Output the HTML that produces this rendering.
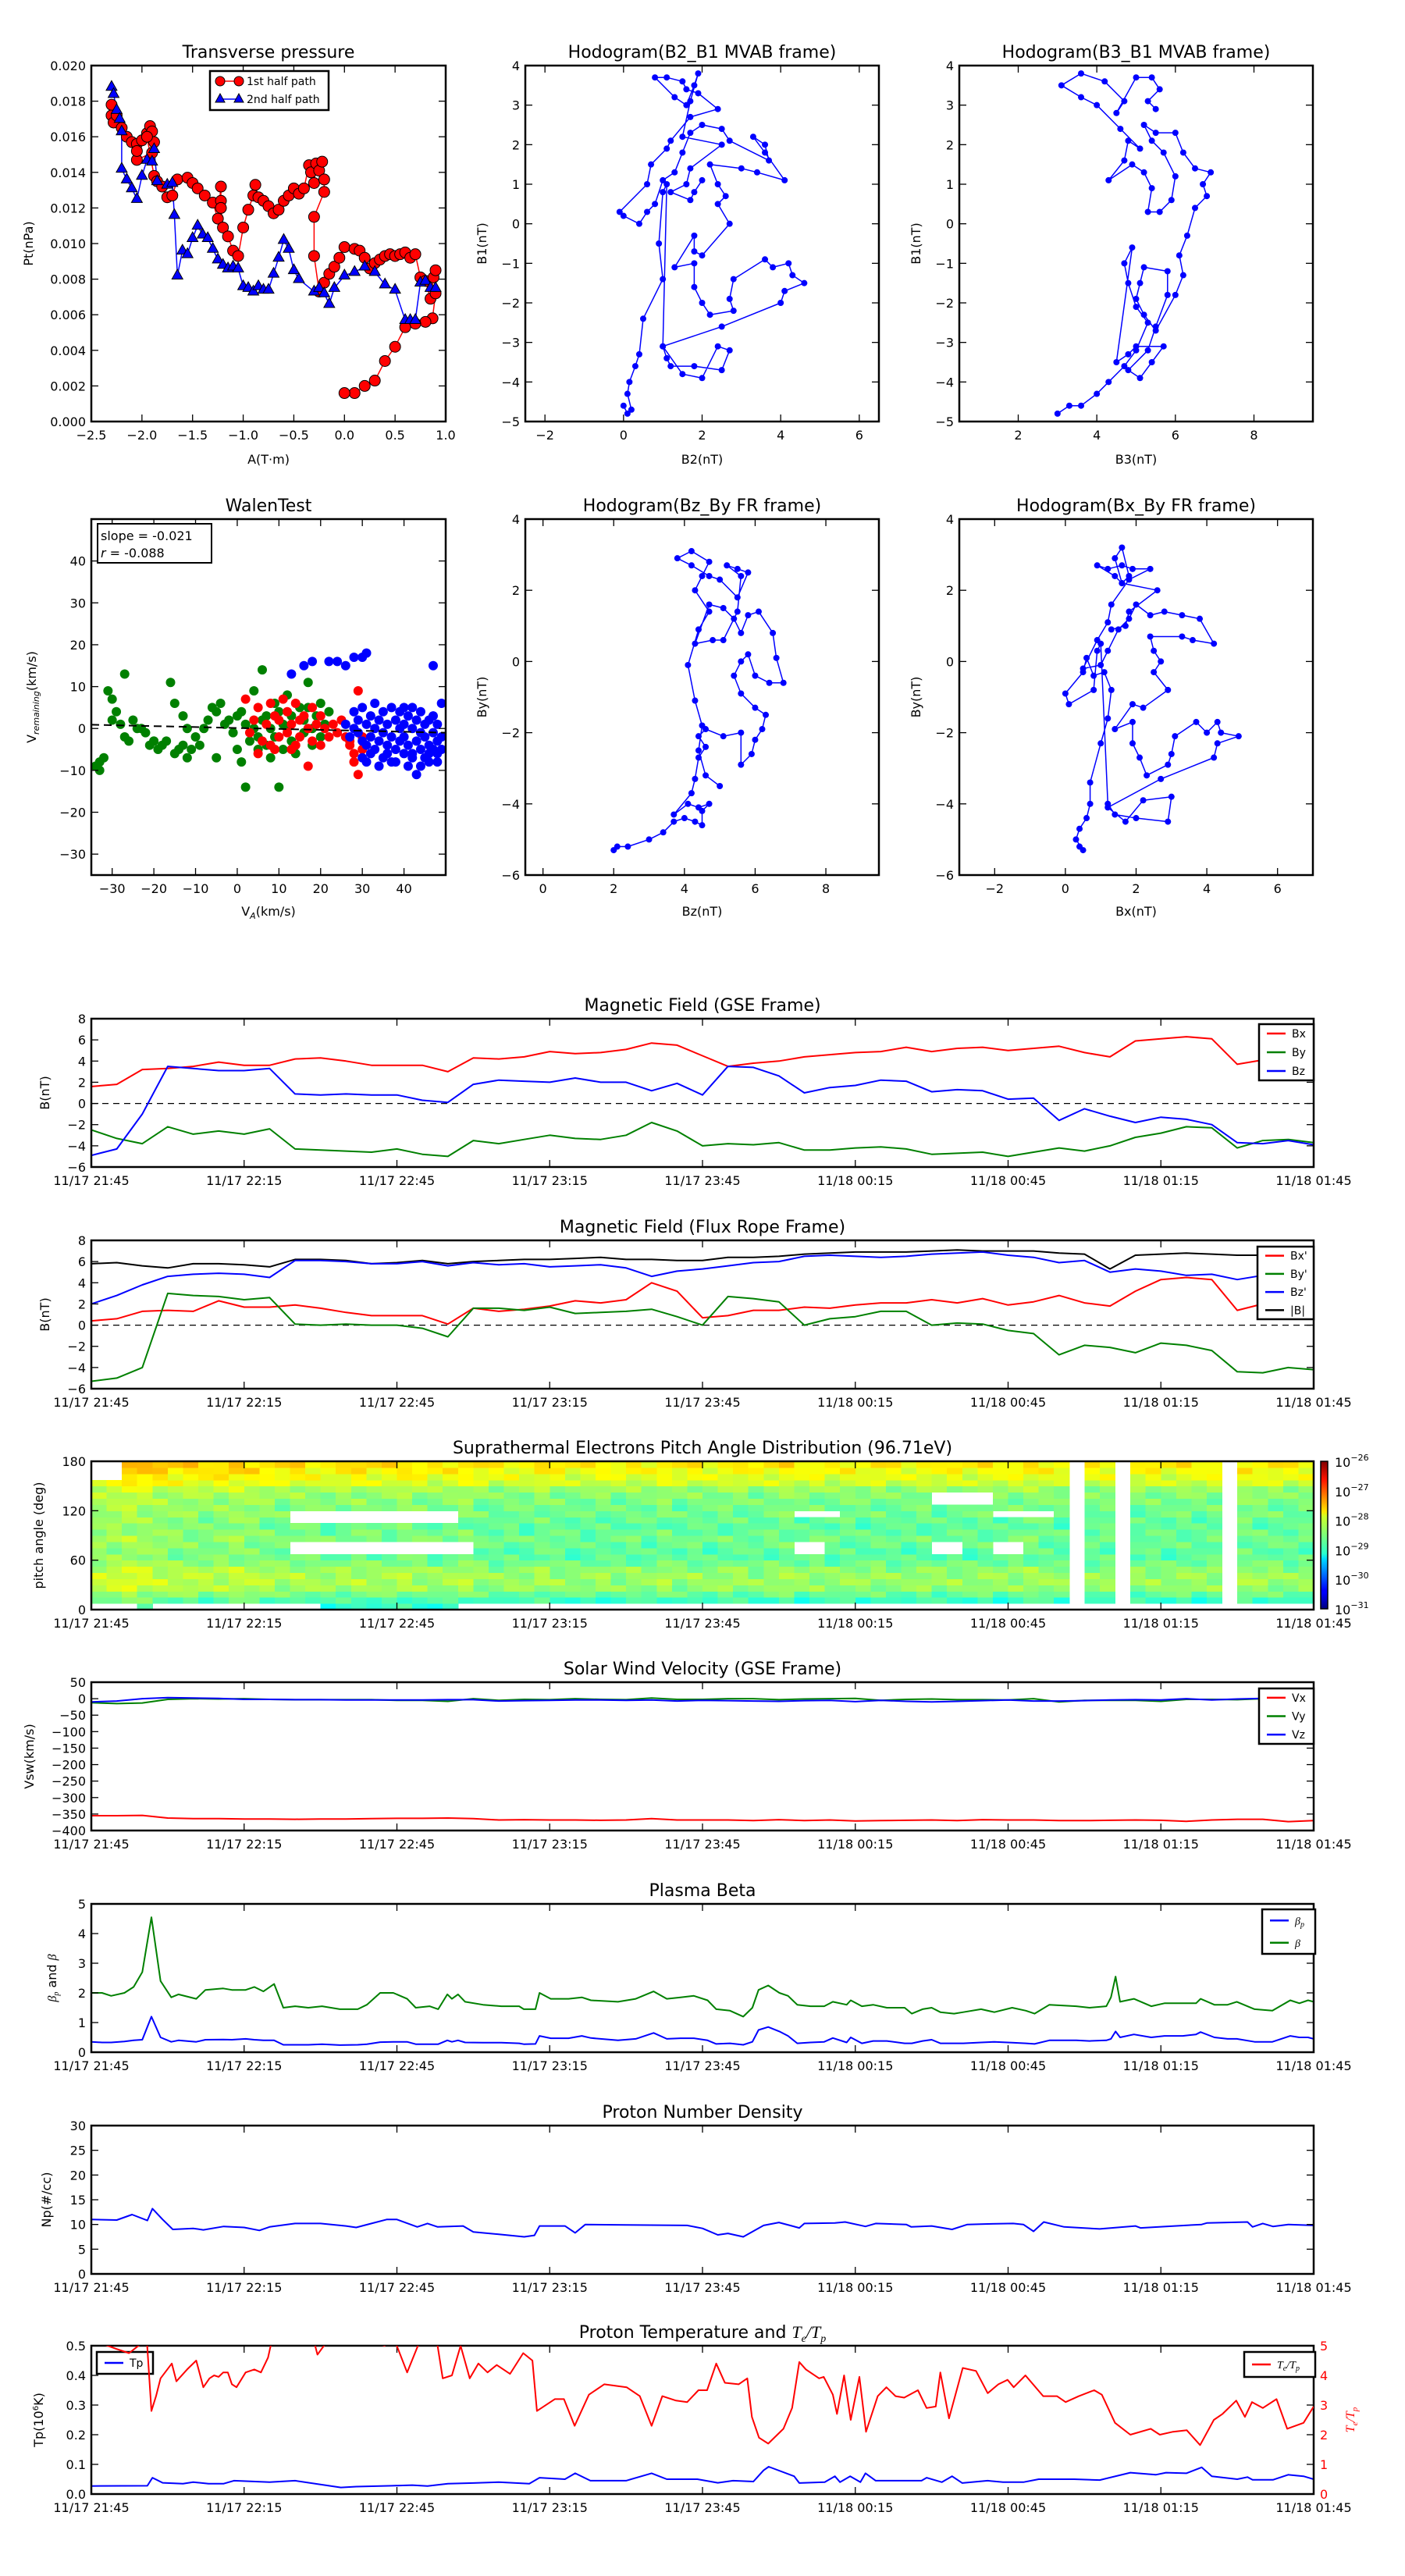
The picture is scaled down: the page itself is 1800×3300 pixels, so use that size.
<!DOCTYPE html>
<html><head><meta charset="utf-8">
<style>
html,body{margin:0;padding:0;background:#fff;}
svg{display:block;font-family:"DejaVu Sans","Liberation Sans",sans-serif;}
</style></head>
<body>
<svg id="fig" width="1800" height="3300" viewBox="0 0 1800 3300" xmlns="http://www.w3.org/2000/svg">
<defs>
<linearGradient id="jetgrad" x1="0" y1="1" x2="0" y2="0">
<stop offset="0" stop-color="#00007f"/><stop offset="0.11" stop-color="#0000ff"/><stop offset="0.125" stop-color="#0000ff"/><stop offset="0.34" stop-color="#00dcff"/><stop offset="0.375" stop-color="#29ffce"/><stop offset="0.5" stop-color="#7dff7a"/><stop offset="0.625" stop-color="#ceff29"/><stop offset="0.66" stop-color="#ffe600"/><stop offset="0.875" stop-color="#ff1300"/><stop offset="1" stop-color="#7f0000"/>
</linearGradient>
</defs>
</svg>
<script>
// ---------- DATA ----------
const ptRedA=[-2.3,-2.3,-2.28,-2.25,-2.2,-2.15,-2.1,-2.05,-2.0,-1.95,-1.92,-1.9,-1.88,-1.9,-2.05,-2.05,-1.95,-1.88,-1.85,-1.8,-1.75,-1.7,-1.65,-1.55,-1.5,-1.45,-1.38,-1.3,-1.25,-1.22,-1.22,-1.22,-1.2,-1.15,-1.1,-1.05,-1.0,-0.95,-0.9,-0.88,-0.85,-0.8,-0.75,-0.7,-0.65,-0.6,-0.55,-0.5,-0.45,-0.4,-0.35,-0.33,-0.3,-0.28,-0.25,-0.22,-0.2,-0.2,-0.3,-0.3,-0.25,-0.2,-0.15,-0.1,-0.05,0.0,0.1,0.15,0.2,0.25,0.3,0.35,0.4,0.45,0.5,0.55,0.6,0.65,0.7,0.75,0.8,0.85,0.88,0.9,0.9,0.87,0.8,0.7,0.6,0.5,0.4,0.3,0.2,0.1,0.0];
const ptRedP=[0.0172,0.0178,0.0168,0.0172,0.0165,0.0160,0.0157,0.0156,0.0158,0.0162,0.0166,0.0163,0.0157,0.0151,0.0147,0.0152,0.0160,0.0138,0.0135,0.0132,0.0126,0.0127,0.0136,0.0137,0.0134,0.0131,0.0127,0.0123,0.0114,0.0132,0.0124,0.0120,0.0109,0.0104,0.0096,0.0093,0.0109,0.0119,0.0127,0.0133,0.0126,0.0124,0.0121,0.0117,0.0119,0.0124,0.0127,0.0131,0.0128,0.0131,0.0144,0.0140,0.0134,0.0145,0.0141,0.0146,0.0136,0.0129,0.0115,0.0093,0.0073,0.0078,0.0083,0.0087,0.0092,0.0098,0.0097,0.0096,0.0092,0.0086,0.0089,0.0091,0.0093,0.0094,0.0093,0.0094,0.0095,0.0092,0.0094,0.0081,0.0079,0.0069,0.0081,0.0085,0.0072,0.0058,0.0056,0.0055,0.0053,0.0042,0.0034,0.0023,0.0020,0.0016,0.0016];
const ptBlueA=[-2.3,-2.28,-2.25,-2.22,-2.2,-2.2,-2.15,-2.1,-2.05,-2.0,-1.95,-1.9,-1.88,-1.85,-1.75,-1.7,-1.68,-1.65,-1.6,-1.55,-1.5,-1.45,-1.4,-1.35,-1.3,-1.25,-1.2,-1.15,-1.1,-1.05,-1.0,-0.95,-0.9,-0.85,-0.8,-0.75,-0.7,-0.65,-0.6,-0.55,-0.5,-0.45,-0.3,-0.25,-0.2,-0.15,-0.1,0.0,0.1,0.2,0.3,0.4,0.5,0.6,0.65,0.7,0.75,0.8,0.85,0.9];
const ptBlueP=[0.0188,0.0184,0.0175,0.0170,0.0163,0.0142,0.0136,0.0131,0.0125,0.0138,0.0147,0.0146,0.0153,0.0135,0.0133,0.0134,0.0116,0.0082,0.0096,0.0094,0.0103,0.0110,0.0105,0.0103,0.0097,0.0091,0.0088,0.0086,0.0087,0.0086,0.0076,0.0075,0.0073,0.0076,0.0074,0.0074,0.0083,0.0092,0.0102,0.0097,0.0085,0.0080,0.0073,0.0075,0.0072,0.0066,0.0075,0.0082,0.0084,0.0087,0.0084,0.0077,0.0074,0.0057,0.0057,0.0057,0.0078,0.0079,0.0075,0.0075];
const hB2=[0.0,0.1,0.2,0.1,0.15,0.3,0.4,0.5,1.0,0.9,1.0,1.1,1.0,1.1,1.2,1.8,2.5,2.7,2.4,2.0,1.5,1.0,2.5,4.0,4.1,4.6,4.3,4.2,3.8,3.6,2.8,2.7,2.8,2.2,2.0,1.8,1.8,1.3,1.8,1.8,2.0,2.7,2.4,2.6,2.4,2.2,3.0,3.4,4.1,3.6,3.3,3.6,3.7,2.7,2.5,2.0,1.7,1.5,1.3,1.0,0.8,0.6,0.4,0.0,-0.1,0.6,0.7,1.1,1.2,1.7,2.4,1.9,1.6,1.5,1.1,0.8,1.3,1.6,1.8,1.9,1.7,1.5,2.5,1.7,1.6,1.2,1.7,1.8,2.0];
const hB1=[-4.6,-4.8,-4.7,-4.3,-4.0,-3.6,-3.3,-2.4,-1.4,-0.5,0.8,1.0,-3.1,-3.4,-3.6,-3.6,-3.7,-3.2,-3.1,-3.9,-3.8,-3.1,-2.6,-2.0,-1.7,-1.5,-1.3,-1.0,-1.1,-0.9,-1.4,-1.9,-2.2,-2.3,-2.0,-1.6,-1.0,-1.1,-0.3,-0.7,-0.8,0.0,0.5,0.7,1.0,1.5,1.4,1.3,1.1,1.8,2.2,2.0,1.6,2.1,2.4,2.5,2.3,1.8,1.3,1.1,0.5,0.3,0.0,0.2,0.3,1.0,1.5,1.9,2.1,2.7,2.9,3.3,3.4,3.6,3.7,3.7,3.2,3.0,3.5,3.8,3.1,2.2,2.0,1.4,1.0,0.8,0.6,0.8,1.1];
const hB3=[3.0,3.3,3.6,4.0,4.3,4.7,5.0,5.3,5.0,4.8,4.7,4.9,4.5,4.8,5.0,5.7,5.4,5.1,4.8,5.3,5.5,5.8,5.8,5.2,5.1,5.0,5.2,5.5,6.0,6.2,6.1,6.3,6.5,6.8,6.7,6.9,6.5,6.2,6.0,5.5,5.2,5.4,5.7,6.0,5.9,5.6,5.3,5.4,5.2,4.9,4.3,4.7,4.8,5.1,4.6,4.0,3.6,3.1,3.6,4.2,4.7,4.5,5.0,5.4,5.6,5.3,5.5];
const hB1b=[-4.8,-4.6,-4.6,-4.3,-4.0,-3.6,-3.2,-2.5,-2.1,-1.5,-1.0,-0.6,-3.5,-3.3,-3.1,-3.1,-3.5,-3.9,-3.7,-3.2,-2.6,-1.8,-1.2,-1.1,-1.5,-1.9,-2.3,-2.7,-1.8,-1.3,-0.8,-0.3,0.4,0.7,1.0,1.3,1.4,1.8,2.3,2.3,2.5,2.1,1.8,1.2,0.6,0.3,0.3,0.9,1.3,1.5,1.1,1.6,2.1,1.9,2.4,3.0,3.2,3.5,3.8,3.6,3.1,2.8,3.7,3.7,3.4,3.1,2.9];
const fzBz=[2.0,2.1,2.4,3.0,3.4,3.7,4.0,4.3,4.5,4.5,4.7,4.4,4.1,3.7,4.2,4.3,4.4,4.6,4.4,4.6,5.1,5.6,5.6,5.9,6.0,6.2,6.3,6.0,5.6,5.4,5.6,5.8,6.0,6.4,6.8,6.6,6.5,6.1,5.8,5.6,5.4,5.1,4.7,4.3,4.8,5.1,5.5,5.6,5.2,5.5,5.8,5.5,5.0,4.7,4.2,3.8,4.2,4.7,4.5,4.3,4.7,4.4,4.1,4.3,4.5,4.4,4.6,5.0];
const fzBy=[-5.3,-5.2,-5.2,-5.0,-4.8,-4.5,-4.4,-4.5,-4.6,-4.2,-4.0,-4.1,-4.0,-4.3,-3.7,-3.3,-2.7,-2.4,-2.1,-1.9,-2.1,-2.0,-2.9,-2.6,-2.2,-1.9,-1.5,-1.3,-0.9,-0.4,0.0,0.2,-0.4,-0.6,-0.6,0.1,0.8,1.4,1.3,0.8,1.2,1.5,1.6,0.5,0.6,0.6,1.4,2.4,2.7,2.6,2.5,1.8,2.3,2.4,2.7,2.9,3.1,2.8,2.4,2.0,1.4,0.9,-0.1,-1.1,-1.8,-2.5,-3.2,-3.5];
const fxBx=[0.4,0.5,0.3,0.4,0.6,0.7,0.7,1.0,1.2,1.3,1.1,0.8,0.6,0.5,0.0,0.1,0.8,0.9,1.0,1.2,1.4,2.0,2.9,3.0,2.2,1.7,1.2,2.7,4.2,4.3,4.9,4.4,4.3,4.0,3.7,3.1,3.0,2.9,2.3,2.1,1.9,1.9,1.4,1.9,2.2,2.9,2.5,2.7,2.5,2.4,3.3,3.6,4.2,3.8,3.3,2.8,2.4,2.0,1.8,1.5,1.2,1.0,0.5,0.9,1.2,1.3,1.8,2.4,1.9,1.6,1.2,0.9,1.4,1.6,1.8,1.6,1.4,1.6,2.6,1.8,1.7,1.3];
const fxBy=[-5.2,-5.3,-5.0,-4.7,-4.4,-4.0,-3.4,-2.3,-1.6,-0.8,-0.3,-0.4,0.1,-0.3,-0.9,-1.2,-0.8,0.3,0.5,-4.0,-4.3,-4.4,-4.5,-3.8,-3.9,-4.5,-4.1,-3.3,-2.7,-2.3,-2.1,-2.0,-1.7,-2.0,-1.7,-2.1,-2.6,-2.9,-3.2,-2.7,-2.3,-1.7,-1.9,-1.2,-1.3,-0.8,-0.3,0.0,0.3,0.7,0.7,0.6,0.5,1.2,1.3,1.4,1.3,1.6,1.2,0.9,0.3,-0.1,-0.2,0.6,1.1,1.6,2.3,2.6,2.6,2.7,2.6,2.7,2.4,2.2,2.4,3.2,2.9,2.2,2.0,1.4,1.0,0.9];
const walGx=[-34,-33,-33,-32,-31,-30,-30,-29,-28,-27,-27,-26,-25,-24,-23,-22,-21,-20,-19,-18,-17,-16,-15,-15,-14,-13,-13,-12,-11,-10,-9,-8,-7,-6,-5,-4,-3,-2,-1,0,0,1,1,2,2,3,4,4,5,5,6,6,7,7,8,8,9,9,10,10,11,11,12,12,13,13,14,15,16,16,17,17,18,18,19,20,20,21,22,-12,-20,-5];
const walGy=[-9,-8,-10,-7,9,7,2,4,1,13,-2,-3,2,0,0,-1,-4,-3,-5,-4,-3,11,6,-6,-5,-4,3,-7,-5,-2,-4,0,2,5,4,6,1,2,-1,3,-5,-8,4,1,-14,-3,9,0,-2,-5,14,2,-4,3,-7,0,6,-2,4,-14,1,-5,0,8,3,-3,-6,5,2,-1,11,5,0,-4,3,6,-2,1,4,0,-3,-7];
const walRx=[2,3,4,5,6,7,8,8,9,10,10,11,12,12,13,13,14,14,15,15,16,17,17,18,18,19,20,20,21,22,23,24,25,26,27,27,28,28,29,29,30,30,9,5];
const walRy=[7,-1,2,5,-3,1,6,-4,3,-2,2,7,-1,4,-5,1,6,-4,2,-2,3,-9,0,5,-3,1,-4,3,0,-2,1,-1,2,-2,-3,-4,-6,-8,9,-11,-5,-2,-5,-6];
const walBx=[13,16,18,22,24,26,28,30,31,47,49,28,28,29,29,30,30,31,31,32,32,33,33,33,34,34,35,35,35,36,36,37,37,37,38,38,39,39,39,40,40,40,41,41,41,42,42,42,43,43,43,44,44,44,45,45,45,46,46,46,47,47,47,48,48,48,49,49,31,34,36,38,40,42,44,46,48,30,32,27,26];
const walBy=[13,15,16,16,16,15,17,17,18,15,6,4,0,-1,2,-3,5,1,-4,3,-2,6,0,-5,2,-3,4,-1,-7,1,-4,5,-2,-8,2,-5,0,-3,4,-6,1,-2,3,-4,-9,0,-6,5,-3,2,-11,-1,-5,4,-2,-7,1,-4,2,-8,-1,-5,3,-3,-6,1,-2,-5,-8,-9,-6,-8,5,-7,-9,-6,-8,-7,-6,-2,1];
const walFit=[-35,0.9,50,-1.0];
const timeTickLabels=["11/17 21:45","11/17 22:15","11/17 22:45","11/17 23:15","11/17 23:45","11/18 00:15","11/18 00:45","11/18 01:15","11/18 01:45"];
const tGrid=[0,5,10,15,20,25,30,35,40,45,50,55,60,65,70,75,80,85,90,95,100,105,110,115,120,125,130,135,140,145,150,155,160,165,170,175,180,185,190,195,200,205,210,215,220,225,230,235,240];
const gseBx=[1.6,1.8,3.2,3.3,3.5,3.9,3.6,3.6,4.2,4.3,4.0,3.6,3.6,3.6,3.0,4.3,4.2,4.4,4.9,4.7,4.8,5.1,5.7,5.5,4.5,3.5,3.8,4.0,4.4,4.6,4.8,4.9,5.3,4.9,5.2,5.3,5.0,5.2,5.4,4.8,4.4,5.9,6.1,6.3,6.1,3.7,4.1,4.1,3.4];
const gseBy=[-2.5,-3.3,-3.8,-2.2,-2.9,-2.6,-2.9,-2.4,-4.3,-4.4,-4.5,-4.6,-4.3,-4.8,-5.0,-3.5,-3.8,-3.4,-3.0,-3.3,-3.4,-3.0,-1.8,-2.6,-4.0,-3.8,-3.9,-3.7,-4.4,-4.4,-4.2,-4.1,-4.3,-4.8,-4.7,-4.6,-5.0,-4.6,-4.2,-4.5,-4.0,-3.2,-2.8,-2.2,-2.3,-4.2,-3.5,-3.4,-3.7];
const gseBz=[-4.9,-4.3,-1.0,3.5,3.3,3.1,3.1,3.3,0.9,0.8,0.9,0.8,0.8,0.3,0.1,1.8,2.2,2.1,2.0,2.4,2.0,2.0,1.2,1.9,0.8,3.5,3.4,2.6,1.0,1.5,1.7,2.2,2.1,1.1,1.3,1.2,0.4,0.5,-1.6,-0.5,-1.2,-1.8,-1.3,-1.5,-2.0,-3.7,-3.8,-3.5,-3.9];
const frBx=[0.4,0.6,1.3,1.4,1.3,2.3,1.7,1.7,1.9,1.6,1.2,0.9,0.9,0.9,0.1,1.6,1.3,1.5,1.8,2.3,2.1,2.4,4.0,3.2,0.7,0.9,1.4,1.4,1.7,1.6,1.9,2.1,2.1,2.4,2.1,2.5,1.9,2.2,2.8,2.1,1.8,3.2,4.3,4.5,4.3,1.4,2.0,2.2,0.8];
const frBy=[-5.3,-5.0,-4.0,3.0,2.8,2.7,2.4,2.6,0.1,0.0,0.1,0.0,0.0,-0.3,-1.1,1.6,1.6,1.4,1.7,1.1,1.2,1.3,1.5,0.8,0.0,2.7,2.5,2.2,0.0,0.6,0.8,1.3,1.3,0.0,0.2,0.1,-0.5,-0.8,-2.8,-1.9,-2.1,-2.6,-1.7,-1.9,-2.4,-4.4,-4.5,-4.0,-4.2];
const frBz=[2.0,2.8,3.8,4.6,4.8,4.9,4.8,4.5,6.1,6.1,6.0,5.8,5.8,6.0,5.6,5.9,5.7,5.8,5.5,5.6,5.7,5.4,4.6,5.1,5.3,5.6,5.9,6.0,6.5,6.6,6.5,6.4,6.5,6.7,6.8,6.9,6.6,6.4,5.9,6.1,5.0,5.3,5.1,4.7,4.8,4.3,4.7,4.0,4.5];
const frBmag=[5.8,5.9,5.6,5.4,5.8,5.8,5.7,5.5,6.2,6.2,6.1,5.8,5.9,6.1,5.8,6.0,6.1,6.2,6.2,6.3,6.4,6.2,6.2,6.1,6.1,6.4,6.4,6.5,6.7,6.8,6.9,6.9,6.9,7.0,7.1,7.0,7.0,7.0,6.8,6.7,5.3,6.6,6.7,6.8,6.7,6.6,6.6,6.7,6.3];
const swVx=[-355,-355,-354,-362,-364,-364,-365,-365,-366,-365,-365,-364,-363,-363,-362,-364,-368,-367,-368,-368,-369,-368,-364,-368,-368,-368,-370,-367,-370,-368,-371,-370,-369,-368,-370,-367,-368,-368,-370,-370,-369,-368,-369,-372,-368,-366,-366,-373,-370];
const swVy=[-12,-15,-13,-2,0,-1,0,-2,-3,-3,-3,-3,-5,-5,-8,0,-5,-2,-3,0,-2,-3,2,-2,-2,0,0,-3,-1,0,1,-5,-2,-1,-3,-3,-4,0,-10,-5,-5,-5,-8,-2,-2,-3,0,-5,-2];
const swVz=[-10,-7,0,3,2,1,-2,-2,-3,-3,-4,-4,-4,-4,-3,-3,-7,-6,-5,-4,-4,-5,-4,-7,-5,-6,-7,-8,-6,-5,-9,-5,-8,-10,-8,-6,-4,-7,-7,-6,-4,-3,-4,0,-4,-1,1,-1,-1];
const tBeta=[0,2.1,3.9,6.5,8.3,10,11.8,13.6,15.7,17.1,20.6,22.4,25.9,27.6,30.3,32,33.8,35.9,37.7,40,42.6,45.3,48.8,52.3,54.1,56.7,59.3,62,63.7,66.4,68.1,69.9,70.8,72,73.4,76.9,80.5,84,84.9,87.2,88,90.2,93.7,96.3,98.1,103.4,106.9,110.4,113,115.7,118.3,121,122.7,125.4,128,129.8,131,132.9,135.1,136.8,138.6,141.2,143.9,145.6,148.3,149.1,151.3,153.5,156.2,159.7,161.1,163.2,165,166.7,169.4,171.2,174.7,177.3,180.8,183.5,185.2,188.1,193.4,196,199.3,200.2,201.1,202,204.7,208.1,210.7,214.3,216.9,217.8,220.5,223.1,224.9,228.4,231.9,235.4,237.2,238.9,240];
const betaTotal=[2.0,2.0,1.9,2.0,2.2,2.7,4.55,2.4,1.85,1.95,1.8,2.1,2.15,2.1,2.1,2.2,2.05,2.3,1.5,1.55,1.5,1.55,1.45,1.45,1.6,2.0,2.0,1.8,1.5,1.55,1.45,1.95,1.8,1.95,1.7,1.6,1.55,1.55,1.45,1.45,2.0,1.8,1.8,1.85,1.75,1.7,1.8,2.05,1.8,1.85,1.9,1.75,1.45,1.4,1.2,1.5,2.1,2.25,2.0,1.9,1.6,1.55,1.55,1.7,1.6,1.75,1.55,1.6,1.5,1.5,1.3,1.45,1.5,1.35,1.3,1.35,1.45,1.35,1.5,1.4,1.3,1.6,1.55,1.5,1.55,1.85,2.55,1.7,1.8,1.55,1.65,1.65,1.65,1.8,1.6,1.6,1.7,1.45,1.4,1.75,1.65,1.75,1.7];
const betaP=[0.35,0.33,0.33,0.36,0.4,0.42,1.2,0.5,0.35,0.4,0.35,0.42,0.43,0.42,0.45,0.42,0.4,0.4,0.25,0.25,0.25,0.27,0.24,0.25,0.27,0.34,0.35,0.35,0.27,0.27,0.27,0.4,0.35,0.4,0.33,0.32,0.32,0.3,0.27,0.28,0.55,0.47,0.47,0.55,0.48,0.4,0.45,0.65,0.45,0.47,0.47,0.4,0.28,0.3,0.25,0.35,0.75,0.85,0.7,0.55,0.3,0.33,0.35,0.48,0.33,0.5,0.3,0.38,0.38,0.3,0.3,0.38,0.42,0.3,0.3,0.3,0.33,0.35,0.32,0.3,0.28,0.4,0.4,0.38,0.4,0.45,0.7,0.5,0.6,0.5,0.55,0.55,0.6,0.68,0.5,0.45,0.45,0.35,0.35,0.55,0.5,0.5,0.45];
const tNp=[0,5,8,11,12,14,16,20,22,26,30,33,35,40,45,50,52,55,58,60,64,66,68,73,75,80,85,87,88,93,95,97,105,117,120,123,125,128,132,135,139,140,146,148,152,154,160,161,165,169,172,176,181,183,185,187,191,198,205,206,211,218,219,227,228,230,232,235,240];
const npVals=[11.0,10.9,12.0,10.8,13.2,11.0,9.0,9.2,8.9,9.6,9.4,8.8,9.5,10.2,10.2,9.7,9.4,10.2,11.0,11.0,9.5,10.2,9.5,9.7,8.5,8.0,7.5,7.8,9.7,9.7,8.3,10.0,9.9,9.8,9.2,7.9,8.2,7.5,9.8,10.4,9.3,10.2,10.3,10.5,9.6,10.2,10.0,9.5,9.7,9.0,10.0,10.1,10.2,10.0,8.6,10.5,9.5,9.1,9.7,9.3,9.6,10.0,10.3,10.5,9.5,10.2,9.6,10.0,9.8];
const tTp=[0,11,12,14,18,20,23,26,28,35,40,49,52,59,63,66,70,75,80,86,88,93,95,98,105,110,113,119,123,126,130,132,133,138,139,144,146,147,149,151,152,154,158,163,164,167,169,171,176,179,183,186,193,198,204,209,211,215,218,220,225,227,228,232,235,238,240];
const tpVals=[0.027,0.028,0.055,0.038,0.035,0.040,0.035,0.035,0.045,0.040,0.045,0.022,0.025,0.028,0.030,0.027,0.035,0.037,0.040,0.035,0.055,0.050,0.070,0.045,0.045,0.070,0.050,0.050,0.038,0.045,0.042,0.080,0.092,0.060,0.037,0.040,0.060,0.040,0.060,0.040,0.070,0.045,0.045,0.045,0.055,0.040,0.060,0.037,0.045,0.040,0.040,0.050,0.050,0.047,0.072,0.065,0.072,0.070,0.090,0.060,0.050,0.057,0.048,0.048,0.065,0.060,0.050];
const tTeTp=[0,4.8,7.4,10,10.9,11.8,12.7,13.6,15.8,16.7,18.8,20.6,22,23.2,24.1,25,25.9,26.8,27.6,28.5,30.3,32,33.3,34.7,35.6,43.5,44.4,46.1,55.8,57.6,59.3,62,64.6,67.8,69,70.8,72.5,74.3,76,77.8,79.6,82.2,84.8,86.6,87.5,91,92.8,94.9,97.7,100.7,105.1,107.7,110,112.1,114.8,117,119.2,120.9,122.7,124.4,127.1,128.8,129.7,131.1,132.9,135.9,137.6,139,140.3,142.9,143.8,145.6,146.4,147.8,149.1,150.8,152.1,154.4,156.1,157.9,159.6,162.3,164,165.8,166.7,168.4,171.1,173.7,176,178.1,179.9,181.1,183.4,186.9,189.6,191.3,193.9,196.9,198.4,201,204,208,209.8,212.4,215.1,217.7,220.4,222.1,224.8,226.5,227.9,230,232.7,234.8,238,240];
const teTpVals=[5.2,4.9,4.75,5.1,5.2,2.8,3.3,3.9,4.4,3.8,4.2,4.5,3.6,3.9,4.0,3.95,4.1,4.1,3.7,3.6,4.1,4.2,4.1,4.6,5.3,5.3,4.7,5.1,5.1,5.0,5.3,4.1,5.2,5.2,3.9,4.0,5.0,3.9,4.4,4.1,4.35,4.05,4.75,4.5,2.8,3.2,3.2,2.3,3.35,3.7,3.6,3.3,2.3,3.3,3.15,3.1,3.5,3.5,4.4,3.75,3.7,3.9,2.6,1.9,1.7,2.2,2.9,4.45,4.2,3.9,3.95,3.35,2.7,4.0,2.5,3.95,2.1,3.3,3.6,3.3,3.25,3.5,2.9,2.95,4.1,2.55,4.25,4.15,3.4,3.7,3.85,3.6,4.0,3.3,3.3,3.1,3.3,3.5,3.35,2.4,2.0,2.2,2.0,2.1,2.15,1.65,2.5,2.7,3.15,2.6,3.1,2.9,3.2,2.2,2.4,2.95];
const padRowLevel=[-28.9,-28.75,-28.55,-28.35,-28.3,-28.3,-28.35,-28.5,-28.6,-28.6,-28.55,-28.5,-28.55,-28.6,-28.55,-28.5,-28.5,-28.45,-28.4,-28.3,-28.05,-27.95,-27.85,-27.75];
const padColOffset=[0.15,0.2,0.25,0.2,0.15,0.1,0.1,0.05,0.1,0.15,0.1,0.05,0.0,0.05,0.0,-0.05,0.0,0.05,0.0,0.0,0.05,0.0,-0.05,0.0,0.05,-0.05,-0.1,-0.05,-0.1,0.0,-0.05,-0.1,-0.1,-0.05,-0.1,-0.05,-0.1,0.0,-0.1,-0.05,-0.1,-0.05,-0.05,-0.1,-0.05,0.0,-0.1,-0.05,-0.1,-0.05,-0.1,-0.05,-0.1,-0.1,-0.05,-0.1,-0.05,-0.1,-0.05,-0.1,-0.05,0.0,-0.05,-0.1,-0.05,-0.1,-0.05,-0.05,-0.1,-0.05,-0.1,-0.05,-0.1,-0.05,-0.05,0.0,-0.05,-0.05,-0.1,-0.05];
const padTexture=[0.12,-0.08,0.0,-0.2,0.08,0.15,-0.12,0.04,-0.05,0.18,-0.15,0.06,-0.02];
const padBlankT0=[193,200,221,0,12,73,0,38,38,139,139,164,165,177,177];
const padBlankT1=[196,203,224,8,46,240,5,73,75,146,145,176,171,190,184];
const padBlankA0=[0,0,0,0,0,0,158,105,68,111,71,131,71,115,71];
const padBlankA1=[180,180,180,9,9,9,180,120,83,121,83,145,85,121,85];
const cbarLabels=["-26","-27","-28","-29","-30","-31"];

// ---------- DRAWING ----------
const NS='http://www.w3.org/2000/svg';
const svg=document.getElementById('fig');
let clipId=0;
function mk(tag,attrs,parent){const e=document.createElementNS(NS,tag);for(const k in attrs)e.setAttribute(k,attrs[k]);(parent||svg).appendChild(e);return e;}
function fmtNum(v,d){const s=Math.abs(v).toFixed(d);return (v<0?'\u2212':'')+s;}
function makeAxes(nm,x0,y0,w,h,xmin,xmax,ymin,ymax){
  const g=mk('g',{});
  
  
  const sx=v=>x0+(v-xmin)/(xmax-xmin)*w;
  const sy=v=>y0+h-(v-ymin)/(ymax-ymin)*h;
  const id='c'+(clipId++);
  const cp=mk('clipPath',{id:id},g);
  mk('rect',{x:x0,y:y0,width:w,height:h},cp);
  const data=mk('g',{'clip-path':'url(#'+id+')'},g);
  
  
  return {g,data,sx,sy,x0,y0,w,h};
}
function frame(ax){
  const f=mk('rect',{x:ax.x0,y:ax.y0,width:ax.w,height:ax.h,fill:'none',stroke:'#000','stroke-width':2.5},ax.g);
  
  
}
function xTicks(ax,vals,labels,both){
  vals.forEach((v,i)=>{
    const x=ax.sx(v);
    mk('line',{x1:x,x2:x,y1:ax.y0+ax.h,y2:ax.y0+ax.h-9,stroke:'#000','stroke-width':1.3},ax.g);
    if(both!==false)mk('line',{x1:x,x2:x,y1:ax.y0,y2:ax.y0+9,stroke:'#000','stroke-width':1.3},ax.g);
    const t=mk('text',{x:x,y:ax.y0+ax.h+23,'text-anchor':'middle','font-size':16},ax.g);
    t.textContent=labels[i];
    
    
  });
}
function yTicks(ax,vals,labels,right){
  vals.forEach((v,i)=>{
    const y=ax.sy(v);
    mk('line',{x1:ax.x0,x2:ax.x0+9,y1:y,y2:y,stroke:'#000','stroke-width':1.3},ax.g);
    if(right!==false)mk('line',{x1:ax.x0+ax.w,x2:ax.x0+ax.w-9,y1:y,y2:y,stroke:'#000','stroke-width':1.3},ax.g);
    const t=mk('text',{x:ax.x0-7,y:y+6,'text-anchor':'end','font-size':16},ax.g);
    t.textContent=labels[i];
    
    
  });
}
function title(ax,txt,nm){
  const t=mk('text',{x:ax.x0+ax.w/2,y:ax.y0-10,'text-anchor':'middle','font-size':22},ax.g);
  t.innerHTML=txt;
  
  
  return t;
}
function ylab(ax,txt,x,nm,col){
  const cy=ax.y0+ax.h/2;
  const t=mk('text',{x:x,y:cy,'text-anchor':'middle','font-size':16,transform:'rotate(-90 '+x+' '+cy+')',fill:col||'#000'},ax.g);
  t.innerHTML=txt;
  
  
}
function xlab(ax,txt,y,nm){
  const t=mk('text',{x:ax.x0+ax.w/2,y:y,'text-anchor':'middle','font-size':16},ax.g);
  t.innerHTML=txt;
  
  
}
function line(ax,xs,ys,col,wd,nm,dash){
  const d=xs.map((x,i)=>(i?'L':'M')+ax.sx(x).toFixed(1)+' '+ax.sy(ys[i]).toFixed(1)).join(' ');
  const p=mk('path',{d:d,fill:'none',stroke:col,'stroke-width':wd,'stroke-linejoin':'round'},ax.data);
  if(dash)p.setAttribute('stroke-dasharray',dash);
  
  
  return p;
}
function dots(ax,xs,ys,col,r,nm,edge){
  const g=mk('g',{},ax.data);
  
  
  xs.forEach((x,i)=>{
    const c=mk('circle',{cx:ax.sx(x),cy:ax.sy(ys[i]),r:r,fill:col},g);
    if(edge){c.setAttribute('stroke','#000');c.setAttribute('stroke-width',1);}
  });
}
function tris(ax,xs,ys,col,s,nm){
  const g=mk('g',{},ax.data);
  
  
  xs.forEach((x,i)=>{
    const cx=ax.sx(x),cy=ax.sy(ys[i]);
    mk('polygon',{points:(cx)+','+(cy-s)+' '+(cx-s*0.87)+','+(cy+s*0.55)+' '+(cx+s*0.87)+','+(cy+s*0.55),fill:col,stroke:'#000','stroke-width':1},g);
  });
}
function legend(ax,x,y,w,h,entries,nm){
  const g=mk('g',{},ax.g);
  
  
  mk('rect',{x:x,y:y,width:w,height:h,fill:'#fff',stroke:'#000','stroke-width':2.5},g);
  const step=h/entries.length;
  entries.forEach((e,i)=>{
    const cy=y+step*(i+0.5);
    mk('line',{x1:x+10,x2:x+34,y1:cy,y2:cy,stroke:e[1],'stroke-width':2.5},g);
    const t=mk('text',{x:x+42,y:cy+5,'font-size':14},g);
    t.innerHTML=e[0];
    
    
  });
  return g;
}
function range(a,b,s){const r=[];for(let v=a;v<=b+1e-9;v+=s)r.push(Math.round(v*1000)/1000);return r;}

(function(){
  const ax=makeAxes('transverse-pressure-chart',117,84,454,456,-2.5,1.0,0,0.02);
  line(ax,ptRedA,ptRedP,'#f00',1.5,'first-half-path-line');
  line(ax,ptBlueA,ptBlueP,'#00f',1.5,'second-half-path-line');
  dots(ax,ptRedA,ptRedP,'#f00',7,'first-half-path-markers',true);
  tris(ax,ptBlueA,ptBlueP,'#00f',8,'second-half-path-markers');
  frame(ax);
  const xv=range(-2.5,1.0,0.5);xTicks(ax,xv,xv.map(v=>fmtNum(v,1)));
  const yv=range(0,0.02,0.002);yTicks(ax,yv,yv.map(v=>v.toFixed(3)));
  title(ax,'Transverse pressure','pressure-title');
  ylab(ax,'Pt(nPa)',42,'y-axis-title');
  xlab(ax,'A(T\u00b7m)',594,'x-axis-title');
  const lg=mk('g',{},ax.g);
  
  
  mk('rect',{x:269,y:91,width:152,height:50,fill:'#fff',stroke:'#000','stroke-width':2.5},lg);
  mk('line',{x1:282,x2:306,y1:104,y2:104,stroke:'#f00','stroke-width':1.5},lg);
  mk('circle',{cx:282,cy:104,r:6,fill:'#f00',stroke:'#000'},lg);
  mk('circle',{cx:306,cy:104,r:6,fill:'#f00',stroke:'#000'},lg);
  const t1=mk('text',{x:316,y:109,'font-size':14},lg);t1.textContent='1st half path';
  
  
  mk('line',{x1:282,x2:306,y1:127,y2:127,stroke:'#00f','stroke-width':1.5},lg);
  mk('polygon',{points:'282,120 276,131 288,131',fill:'#00f',stroke:'#000'},lg);
  mk('polygon',{points:'306,120 300,131 312,131',fill:'#00f',stroke:'#000'},lg);
  const t2=mk('text',{x:316,y:132,'font-size':14},lg);t2.textContent='2nd half path';
  
  
})();

function hodo(nm,x0,y0,xmin,xmax,ymin,ymax,xs,ys,xtv,ytv,tt,xl,yl,xlY,ylX){
  const ax=makeAxes(nm,x0,y0,453,456,xmin,xmax,ymin,ymax);
  line(ax,xs,ys,'#00f',1.5,nm+'-path');
  dots(ax,xs,ys,'#00f',4,nm+'-points');
  frame(ax);
  xTicks(ax,xtv,xtv.map(v=>fmtNum(v,0)));
  yTicks(ax,ytv,ytv.map(v=>fmtNum(v,0)));
  title(ax,tt,nm+'-title');
  xlab(ax,xl,xlY,'x-axis-title');
  ylab(ax,yl,ylX,'y-axis-title');
}
hodo('hodogram-b2-b1',673,84,-2.5,6.5,-5,4,hB2,hB1,[-2,0,2,4,6],range(-5,4,1),'Hodogram(B2_B1 MVAB frame)','B2(nT)','B1(nT)',594,623);
hodo('hodogram-b3-b1',1229,84,0.5,9.5,-5,4,hB3,hB1b,[2,4,6,8],range(-5,4,1),'Hodogram(B3_B1 MVAB frame)','B3(nT)','B1(nT)',594,1179);
hodo('hodogram-bz-by',673,665,-0.5,9.5,-6,4,fzBz,fzBy,[0,2,4,6,8],range(-6,4,2),'Hodogram(Bz_By FR frame)','Bz(nT)','By(nT)',1173,623);
hodo('hodogram-bx-by',1229,665,-3,7,-6,4,fxBx,fxBy,[-2,0,2,4,6],range(-6,4,2),'Hodogram(Bx_By FR frame)','Bx(nT)','By(nT)',1173,1179);

(function(){
  const ax=makeAxes('walen-test-chart',117,665,454,456,-35,50,-35,50);
  dots(ax,walGx,walGy,'#008000',6,'walen-green-points');
  dots(ax,walRx,walRy,'#f00',6,'walen-red-points');
  dots(ax,walBx,walBy,'#00f',6,'walen-blue-points');
  line(ax,[walFit[0],walFit[2]],[walFit[1],walFit[3]],'#000',2,'walen-fit-line','10,6');
  frame(ax);
  const xv=range(-30,40,10);xTicks(ax,xv,xv.map(v=>fmtNum(v,0)));
  const yv=range(-30,40,10);yTicks(ax,yv,yv.map(v=>fmtNum(v,0)));
  title(ax,'WalenTest','walen-title');
  xlab(ax,'V<tspan font-size="11" dy="4" font-style="italic">A</tspan><tspan dy="-4">(km/s)</tspan>',1173,'x-axis-title');
  ylab(ax,'V<tspan font-size="11" dy="4" font-style="italic">remaining</tspan><tspan dy="-4">(km/s)</tspan>',46,'y-axis-title');
  const b=mk('g',{},ax.g);
  
  
  mk('rect',{x:125,y:671,width:146,height:50,fill:'#fff',stroke:'#000','stroke-width':2},b);
  const s1=mk('text',{x:129,y:692,'font-size':16},b);s1.textContent='slope = -0.021';
  const s2=mk('text',{x:129,y:714,'font-size':16},b);s2.innerHTML='<tspan font-style="italic">r</tspan> = -0.088';
})();

const TX0=117,TW=1566,TH=190;
const tickT=range(0,240,30);
function tsAxes(nm,top,ymin,ymax){return makeAxes(nm,TX0,top,TW,TH,0,240,ymin,ymax);}
function tsFinish(ax,yv,ylabels,tt,tnm,yl,ylx,rightTicks){
  frame(ax);
  xTicks(ax,tickT,timeTickLabels);
  yTicks(ax,yv,ylabels,rightTicks);
  title(ax,tt,tnm);
  ylab(ax,yl,ylx,'y-axis-title');
}
(function(){
  const ax=tsAxes('magnetic-field-gse-chart',1305,-6,8);
  line(ax,[0,240],[0,0],'#000',1.3,'zero-line','8,6');
  line(ax,tGrid,gseBx,'#f00',2,'bx-line');
  line(ax,tGrid,gseBy,'#008000',2,'by-line');
  line(ax,tGrid,gseBz,'#00f',2,'bz-line');
  const yv=range(-6,8,2);
  tsFinish(ax,yv,yv.map(v=>fmtNum(v,0)),'Magnetic Field (GSE Frame)','gse-title','B(nT)',63);
  legend(ax,1613,1312,70,72,[['Bx','#f00'],['By','#008000'],['Bz','#00f']],'gse-legend');
})();
(function(){
  const ax=tsAxes('magnetic-field-fr-chart',1589,-6,8);
  line(ax,[0,240],[0,0],'#000',1.3,'zero-line','8,6');
  line(ax,tGrid,frBmag,'#000',2,'bmag-line');
  line(ax,tGrid,frBz,'#00f',2,'bz-prime-line');
  line(ax,tGrid,frBx,'#f00',2,'bx-prime-line');
  line(ax,tGrid,frBy,'#008000',2,'by-prime-line');
  const yv=range(-6,8,2);
  tsFinish(ax,yv,yv.map(v=>fmtNum(v,0)),'Magnetic Field (Flux Rope Frame)','fr-title','B(nT)',63);
  legend(ax,1611,1597,72,93,[["Bx'",'#f00'],["By'",'#008000'],["Bz'",'#00f'],['|B|','#000']],'fr-legend');
})();
function jet(v){v=Math.max(0,Math.min(1,v));const c=x=>Math.round(255*Math.max(0,Math.min(1,x)));return 'rgb('+c(1.5-Math.abs(4*v-3))+','+c(1.5-Math.abs(4*v-2))+','+c(1.5-Math.abs(4*v-1))+')';}
(function(){
  const ax=tsAxes('pitch-angle-heatmap',1872,0,180);
  const nr=padRowLevel.length,nc=padColOffset.length;
  const dA=180/nr,dT=240/nc;
  const cells=mk('g',{'shape-rendering':'crispEdges'},ax.data);
  
  
  for(let c=0;c<nc;c++){
    for(let r=0;r<nr;r++){
      const tc=(c+0.5)*dT,ac=(r+0.5)*dA;
      let blank=false;
      for(let k=0;k<padBlankT0.length;k++){
        if(tc>=padBlankT0[k]&&tc<=padBlankT1[k]&&ac>=padBlankA0[k]&&ac<=padBlankA1[k])blank=true;
      }
      if(blank)continue;
      const lv=padRowLevel[r]+padColOffset[c]+padTexture[(r*7+c*5)%padTexture.length];
      const x1=ax.sx(c*dT),x2=ax.sx((c+1)*dT),y1=ax.sy((r+1)*dA),y2=ax.sy(r*dA);
      mk('rect',{x:x1.toFixed(2),y:y1.toFixed(2),width:(x2-x1+0.5).toFixed(2),height:(y2-y1+0.5).toFixed(2),fill:jet((lv+31)/5)},cells);
    }
  }
  tsFinish(ax,[0,60,120,180],['0','60','120','180'],'Suprathermal Electrons Pitch Angle Distribution (96.71eV)','pad-title','pitch angle (deg)',55);
  const cb=mk('g',{});
  
  
  mk('rect',{x:1692,y:1872,width:9,height:189,fill:'url(#jetgrad)',stroke:'#000','stroke-width':1.5},cb);
  cbarLabels.forEach((s,i)=>{
    const y=1872+i*189/5;
    const t=mk('text',{x:1710,y:y+7,'font-size':16},cb);
    t.innerHTML='10<tspan font-size="11" dy="-8">'+s.replace('-','\u2212')+'</tspan>';
    
    
  });
})();
(function(){
  const ax=tsAxes('solar-wind-velocity-chart',2155,-400,50);
  line(ax,tGrid,swVx,'#f00',2,'vx-line');
  line(ax,tGrid,swVy,'#008000',2,'vy-line');
  line(ax,tGrid,swVz,'#00f',2,'vz-line');
  const yv=range(-400,50,50);
  tsFinish(ax,yv,yv.map(v=>fmtNum(v,0)),'Solar Wind Velocity (GSE Frame)','solar-wind-title','Vsw(km/s)',43);
  legend(ax,1613,2163,70,71,[['Vx','#f00'],['Vy','#008000'],['Vz','#00f']],'solar-wind-legend');
})();
(function(){
  const ax=tsAxes('plasma-beta-chart',2439,0,5);
  line(ax,tBeta,betaTotal,'#008000',2,'beta-line');
  line(ax,tBeta,betaP,'#00f',2,'beta-p-line');
  const yv=range(0,5,1);
  tsFinish(ax,yv,yv.map(v=>fmtNum(v,0)),'Plasma Beta','plasma-beta-title','<tspan font-style="italic" font-family="Liberation Serif">β<tspan font-size="10" dy="3">p</tspan></tspan><tspan dy="-3"> and </tspan><tspan font-style="italic" font-family="Liberation Serif">β</tspan>',72);
  legend(ax,1617,2446,68,57,[['<tspan font-style="italic" font-family="Liberation Serif">β<tspan font-size="10" dy="3">p</tspan></tspan>','#00f'],['<tspan font-style="italic" font-family="Liberation Serif">β</tspan>','#008000']],'beta-legend');
})();
(function(){
  const ax=tsAxes('proton-density-chart',2723,0,30);
  line(ax,tNp,npVals,'#00f',2,'np-line');
  const yv=range(0,30,5);
  tsFinish(ax,yv,yv.map(v=>fmtNum(v,0)),'Proton Number Density','density-title','Np(#/cc)',65);
})();
(function(){
  const ax=tsAxes('proton-temperature-chart',3005,0,0.5);
  const ax2=makeAxes('te-tp-axis',TX0,3005,TW,TH,0,240,0,5);
  line(ax2,tTeTp,teTpVals,'#f00',2,'te-tp-line');
  line(ax,tTp,tpVals,'#00f',2,'tp-line');
  const yv=range(0,0.5,0.1);
  tsFinish(ax,yv,yv.map(v=>v.toFixed(1)),'Proton Temperature and <tspan font-family="Liberation Serif" font-style="italic">T<tspan font-size="14" dy="5">e</tspan><tspan dy="-5">/T</tspan><tspan font-size="14" dy="5">p</tspan></tspan>','temperature-title','Tp(10<tspan font-size="10" dy="-6">6</tspan><tspan dy="6">K)</tspan>',55,false);
  [0,1,2,3,4,5].forEach(v=>{
    const y=ax2.sy(v);
    mk('line',{x1:TX0+TW,x2:TX0+TW-9,y1:y,y2:y,stroke:'#000','stroke-width':1.3},ax2.g);
    const t=mk('text',{x:TX0+TW+8,y:y+6,'font-size':16,fill:'#f00'},ax2.g);
    t.textContent=String(v);
    
    
  });
  const rx=1735,ry=3005+95;
  const rt=mk('text',{x:rx,y:ry,'text-anchor':'middle','font-size':16,fill:'#f00','font-family':'Liberation Serif','font-style':'italic',transform:'rotate(-90 '+rx+' '+ry+')'},ax2.g);
  rt.innerHTML='T<tspan font-size="11" dy="4">e</tspan><tspan dy="-4">/T</tspan><tspan font-size="11" dy="4">p</tspan>';
  
  
  legend(ax,124,3013,72,28,[['Tp','#00f']],'tp-legend');
  legend(ax2,1594,3013,91,32,[['<tspan font-family="Liberation Serif" font-style="italic">T<tspan font-size="10" dy="3">e</tspan><tspan dy="-3">/T</tspan><tspan font-size="10" dy="3">p</tspan></tspan>','#f00']],'te-tp-legend');
})();
</script>
</body></html>
